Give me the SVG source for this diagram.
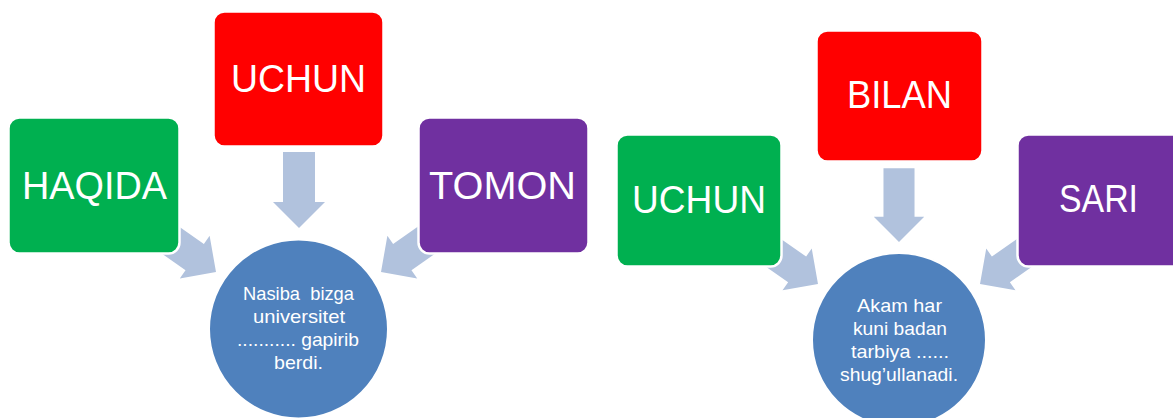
<svg xmlns="http://www.w3.org/2000/svg" width="1173" height="418" viewBox="0 0 1173 418">
<style>
.box{stroke:#ffffff;stroke-width:2.5}
.green{fill:#00B050}
.red{fill:#FF0000}
.purple{fill:#7030A0}
.circle{fill:#4F81BD;stroke:#ffffff;stroke-width:2}
.arrow{fill:#B1C2DD}
.lbl{font-family:"Liberation Sans",Arial,sans-serif;font-size:39px;fill:#ffffff;text-anchor:middle}
.txt{font-family:"Liberation Sans",Arial,sans-serif;font-size:19px;fill:#ffffff;text-anchor:middle;white-space:pre}
</style>
<defs>
<path id="arr" d="M-76,-16 L-26,-16 L-26,-26 L0,0 L-26,26 L-26,16 L-76,16 Z"/>
</defs>
<rect width="1173" height="418" fill="#ffffff"/>
<g id="connectors" class="arrow">
<use href="#arr" transform="translate(299,228) rotate(90)"/>
<use href="#arr" transform="translate(216,272) rotate(35)"/>
<use href="#arr" transform="translate(381,272) rotate(145)"/>
<use href="#arr" transform="translate(899,242) rotate(90) scale(0.97)"/>
<use href="#arr" transform="translate(818,284) rotate(35) scale(0.98)"/>
<use href="#arr" transform="translate(980,284) rotate(145) scale(0.98)"/>
</g>
<g id="node-haqida">
<rect class="box green" x="8.5" y="117.5" width="171" height="136" rx="11"/>
<text class="lbl" x="94.5" y="199" textLength="145" lengthAdjust="spacingAndGlyphs">HAQIDA</text>
</g>
<g id="node-uchun-left">
<rect class="box red" x="213.5" y="11.5" width="170" height="135" rx="11"/>
<text class="lbl" x="298.5" y="92" textLength="135" lengthAdjust="spacingAndGlyphs">UCHUN</text>
</g>
<g id="node-tomon">
<rect class="box purple" x="418.5" y="117.5" width="170" height="136" rx="11"/>
<text class="lbl" x="502.5" y="199" textLength="147" lengthAdjust="spacingAndGlyphs">TOMON</text>
</g>
<g id="node-sentence-left">
<circle class="circle" cx="298.5" cy="329" r="89.5"/>
<text class="txt" x="298.5" y="300" textLength="111" lengthAdjust="spacingAndGlyphs">Nasiba  bizga</text>
<text class="txt" x="299" y="323" textLength="92" lengthAdjust="spacingAndGlyphs">universitet</text>
<text class="txt" x="298" y="346" textLength="122" lengthAdjust="spacingAndGlyphs">........... gapirib</text>
<text class="txt" x="298.5" y="369" textLength="49" lengthAdjust="spacingAndGlyphs">berdi.</text>
</g>
<g id="node-uchun-right">
<rect class="box green" x="616.5" y="134.5" width="165" height="132" rx="11"/>
<text class="lbl" x="699" y="213" textLength="134" lengthAdjust="spacingAndGlyphs">UCHUN</text>
</g>
<g id="node-bilan">
<rect class="box red" x="816.5" y="30.5" width="166" height="131" rx="11"/>
<text class="lbl" x="899.5" y="108" textLength="105" lengthAdjust="spacingAndGlyphs">BILAN</text>
</g>
<g id="node-sari">
<rect class="box purple" x="1017.5" y="134.5" width="165" height="132" rx="11"/>
<text class="lbl" x="1098.5" y="212" textLength="79" lengthAdjust="spacingAndGlyphs">SARI</text>
</g>
<g id="node-sentence-right">
<circle class="circle" cx="899" cy="340" r="87"/>
<text class="txt" x="899.5" y="312" textLength="85" lengthAdjust="spacingAndGlyphs">Akam har</text>
<text class="txt" x="900" y="335" textLength="94" lengthAdjust="spacingAndGlyphs">kuni badan</text>
<text class="txt" x="900" y="358" textLength="98" lengthAdjust="spacingAndGlyphs">tarbiya ......</text>
<text class="txt" x="899" y="381" textLength="118" lengthAdjust="spacingAndGlyphs">shug’ullanadi.</text>
</g>
</svg>
